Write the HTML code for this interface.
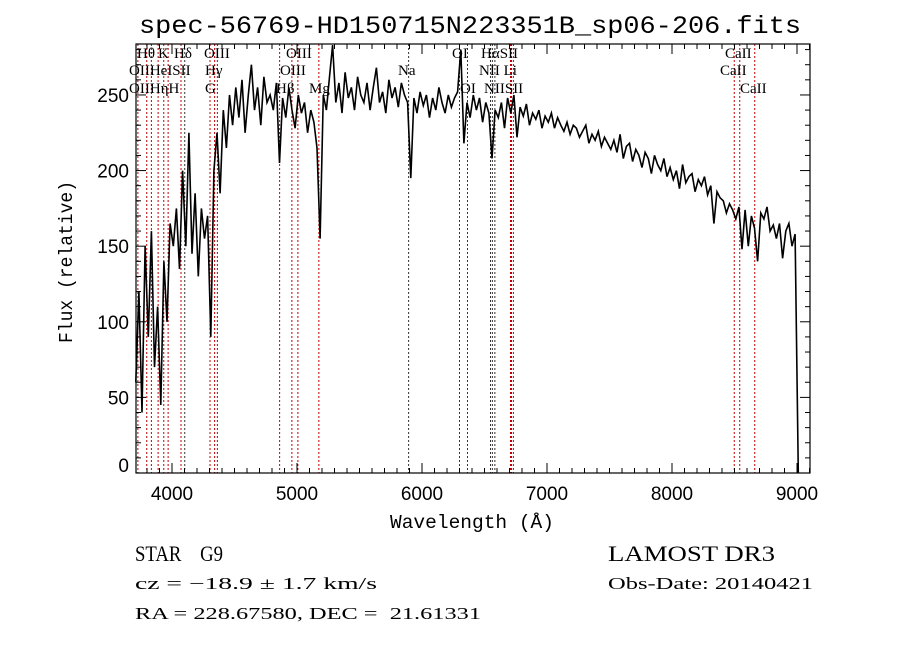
<!DOCTYPE html>
<html><head><meta charset="utf-8"><style>
html,body{margin:0;padding:0;background:#fff;}
svg{display:block;}
text{fill:#000;white-space:pre;}
</style></head><body>
<svg id="chart" width="900" height="649" viewBox="0 0 900 649" xmlns="http://www.w3.org/2000/svg" xml:space="preserve">
<rect width="900" height="649" fill="#fff"/>
<text x="470" y="33" text-anchor="middle" font-family="Liberation Mono, monospace" font-size="25" textLength="662" lengthAdjust="spacingAndGlyphs">spec-56769-HD150715N223351B_sp06-206.fits</text>
<g id="lines"></g>
<g id="linelabels" font-family="Liberation Serif, serif" font-size="15"></g>
<path id="spec" fill="none" stroke="#000" stroke-width="1.6"/>
<rect x="136" y="44" width="674" height="429" fill="none" stroke="#000" stroke-width="1.2"/>
<g id="ticks" stroke="#000" stroke-width="1"></g>
<g id="xlabels" font-family="Liberation Sans, sans-serif" font-size="19"></g>
<g id="ylabels" font-family="Liberation Sans, sans-serif" font-size="19"></g>
<text x="472" y="528" text-anchor="middle" font-family="Liberation Mono, monospace" font-size="19" textLength="164" lengthAdjust="spacingAndGlyphs">Wavelength (Å)</text>
<text transform="translate(72,262) rotate(-90)" text-anchor="middle" font-family="Liberation Mono, monospace" font-size="19" textLength="162" lengthAdjust="spacingAndGlyphs">Flux (relative)</text>
<text x="135" y="561" font-family="Liberation Serif, serif" font-size="22" textLength="88" lengthAdjust="spacingAndGlyphs">STAR    G9</text>
<text x="608" y="561" font-family="Liberation Serif, serif" font-size="22" textLength="167" lengthAdjust="spacingAndGlyphs">LAMOST DR3</text>
<text x="135" y="589" font-family="Liberation Serif, serif" font-size="17" textLength="242" lengthAdjust="spacingAndGlyphs">cz = −18.9 ± 1.7 km/s</text>
<text x="608" y="589" font-family="Liberation Serif, serif" font-size="17" textLength="205" lengthAdjust="spacingAndGlyphs">Obs-Date: 20140421</text>
<text x="135" y="619" font-family="Liberation Serif, serif" font-size="17" textLength="346" lengthAdjust="spacingAndGlyphs">RA = 228.67580, DEC =  21.61331</text>
</svg>
<script>
const waveStart = 3710;
const waveStep = 25;
const flux = [
60,120,40,150,90,160,70,110,45,140,
100,165,150,
175,135,200,150,225,145,185,130,175,155,170,
90,
200,225,185,240,215,250,230,
255,235,260,225,250,270,240,255,230,262,245,250,
240,258,205,248,235,255,240,228,250,238,245,225,240,232,
215,155,
250,240,262,283,245,258,238,265,248,255,240,262,250,245,258,240,255,268,245,252,238,260,248,255,242,258,250,245,
195,
248,238,252,243,250,235,248,240,255,245,238,250,242,248,252,
280,218,
245,235,250,240,248,232,245,238,
208,
240,235,245,228,248,238,250,222,242,236,244,230,238,234,240,228,236,
232,238,228,235,230,226,232,224,230,228,222,226,230,218,224,220,226,216,222,218,
214,220,212,224,208,216,218,206,214,210,202,212,208,198,210,204,200,208,196,202,
194,200,188,204,192,196,198,186,194,190,196,184,190,165,186,182,180,172,178,174,
168,176,148,174,150,170,162,140,172,168,176,160,164,155,165,142,160,165,150,158,
0
];
const lineWaves = [3727,3798,3835,3889,3934,3969,4072,4102,4304,4341,4363,4861,4959,5007,5175,5893,6300,6364,6548,6563,6583,6708,6716,6731,8498,8542,8662];
const lineDark = [4102,5893,6548,6563,6583];
const lineLabels = [
 ["Hθ",137,58],["K",158,58],["Hδ",174,58],["OIII",204,58],["OIII",286,58],["OI",452,58],["HαSII",481,58],["CaII",725,58],
 ["OIIHeISII",129,75],["Hγ",205,75],["OIII",280,75],["Na",398,75],["NII Li",479,75],["CaII",720,75],
 ["OIIHηH",129,93],["G",205,93],["Hβ",276,93],["Mg",309,93],["OI",460,93],["NIISII",484,93],["CaII",740,93]
];
const xTicks = [4000,5000,6000,7000,8000,9000];
const yTicks = [0,50,100,150,200,250];

const X0=136,X1=810,Y0=44,Y1=473;
const wMin=3712,wMax=9104,fMin=0,fMax=283.7;
const sx=w=>X0+(w-wMin)/(wMax-wMin)*(X1-X0);
const sy=f=>Y1-(f-fMin)/(fMax-fMin)*(Y1-Y0);
const NS="http://www.w3.org/2000/svg";
function mk(tag,attrs,parent){const e=document.createElementNS(NS,tag);for(const k in attrs)e.setAttribute(k,attrs[k]);parent.appendChild(e);return e;}

let d="";
flux.forEach((f,i)=>{const w=waveStart+i*waveStep;d+=(i?"L":"M")+sx(w).toFixed(1)+" "+sy(f).toFixed(1);});
document.getElementById("spec").setAttribute("d",d);

const lg=document.getElementById("lines");
lineWaves.forEach(w=>{
 const l=mk("line",{x1:sx(w),x2:sx(w),y1:Y0,y2:Y1,stroke:lineDark.includes(w)?"#333":"#c00000","stroke-width":1,"stroke-dasharray":"2,2"},lg);
 
 
});
const ll=document.getElementById("linelabels");
lineLabels.forEach(a=>{
 const t=mk("text",{x:a[1],y:a[2]},ll);t.textContent=a[0];
 
 
});

const tg=document.getElementById("ticks");
for(let w=3800;w<=9100;w+=100){
 const major=w%1000===0;const len=major?10:5;const x=sx(w);
 mk("line",{x1:x,x2:x,y1:Y1,y2:Y1-len},tg);
 mk("line",{x1:x,x2:x,y1:Y0,y2:Y0+len},tg);
}
for(let f=0;f<=280;f+=10){
 const major=f%50===0;const len=major?10:5;const y=sy(f);
 mk("line",{x1:X0,x2:X0+len,y1:y,y2:y},tg);
 mk("line",{x1:X1,x2:X1-len,y1:y,y2:y},tg);
}
const xl=document.getElementById("xlabels");
xTicks.forEach(w=>{
 const t=mk("text",{x:sx(w),y:500,"text-anchor":"middle"},xl);t.textContent=w;
 
 
});
const yl=document.getElementById("ylabels");
yTicks.forEach(f=>{
 const y=f===0?sy(f)-1:sy(f)+7;
 const t=mk("text",{x:129,y:y,"text-anchor":"end"},yl);t.textContent=f;
 
 
});
</script>
</body></html>
